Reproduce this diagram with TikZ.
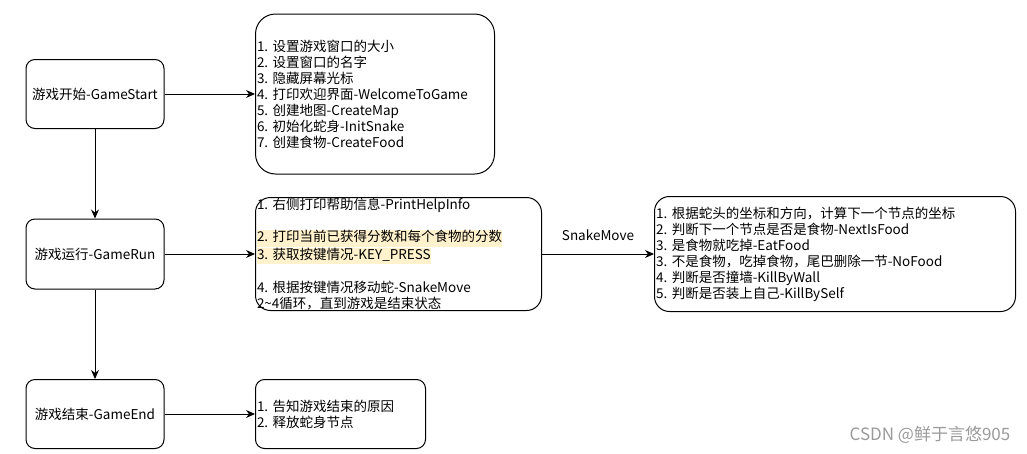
\documentclass[tikz,border=0pt]{standalone}
\usepackage{fontspec}
\setmainfont{Noto Sans CJK SC}
\frenchspacing
\usetikzlibrary{arrows.meta,positioning}
\definecolor{hlfill}{HTML}{FFF2CC}
\definecolor{markgray}{HTML}{9A9A9A}
\newcommand{\hlline}[1]{{\setlength{\fboxsep}{0pt}\colorbox{hlfill}{\strut #1}}}

\begin{document}
\begin{tikzpicture}[x=1pt, y=-1pt,
    stage/.style={draw, rectangle, rounded corners=9pt, line width=1pt, minimum width=138pt, minimum height=69pt, font=\fontsize{13.5}{16}\selectfont},
    detail/.style={draw, rectangle, line width=1pt, anchor=west, inner xsep=1.5pt, inner ysep=0pt, align=left, font=\fontsize{13.5}{16}\selectfont},
    flow/.style={-{Stealth[length=9pt,width=8pt]}, line width=1pt}]
    \useasboundingbox (0,0) rectangle (1027,453);

    % left column
    \node[stage] (start) at (95,94) {游戏开始-GameStart};
    \node[stage, minimum height=70pt] (run) at (95,254) {游戏运行-GameRun};
    \node[stage] (end) at (95,414) {游戏结束-GameEnd};

    % detail boxes
    \node[detail, rounded corners=20pt, text width=236pt, minimum height=160pt] (init) at (255,94) {1. 设置游戏窗口的大小\\2. 设置窗口的名字\\3. 隐藏屏幕光标\\4. 打印欢迎界面-WelcomeToGame\\5. 创建地图-CreateMap\\6. 初始化蛇身-InitSnake\\7. 创建食物-CreateFood};
    \node[detail, rounded corners=15pt, text width=283pt, minimum height=113pt] (loop) at (255,254) {1. 右侧打印帮助信息-PrintHelpInfo\\[16pt]\hlline{2. 打印当前已获得分数和每个食物的分数}\\\hlline{3. 获取按键情况-KEY\_PRESS}\\[16pt]4. 根据按键情况移动蛇-SnakeMove\\2\textasciitilde4循环，直到游戏是结束状态};
    \node[detail, rounded corners=15pt, text width=358pt, minimum height=115pt] (move) at (654,254) {1. 根据蛇头的坐标和方向，计算下一个节点的坐标\\2. 判断下一个节点是否是食物-NextIsFood\\3. 是食物就吃掉-EatFood\\3. 不是食物，吃掉食物，尾巴删除一节-NoFood\\4. 判断是否撞墙-KillByWall\\5. 判断是否装上自己-KillBySelf};
    \node[detail, rounded corners=9pt, text width=167pt, minimum height=69pt] (quit) at (255,414) {1. 告知游戏结束的原因\\2. 释放蛇身节点};

    % connectors
    \draw[flow] (start) -- (run);
    \draw[flow] (run) -- (end);
    \draw[flow] (start.east) -- (init.west);
    \draw[flow] (run.east) -- (loop.west);
    \draw[flow] (loop.east) -- node[above, yshift=9pt, font=\fontsize{13.5}{16}\selectfont] {SnakeMove} (move.west);
    \draw[flow] (end.east) -- (quit.west);

    \node[text=markgray, font=\fontsize{17}{20}\selectfont] (mark) at (930,435) {CSDN @鲜于言悠905};
\end{tikzpicture}
\end{document}
